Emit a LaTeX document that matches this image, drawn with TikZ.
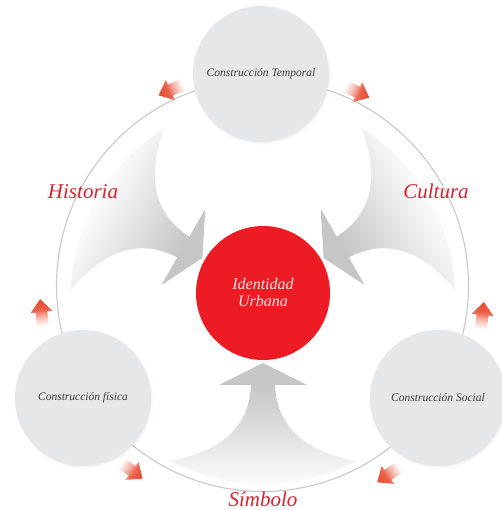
\documentclass[tikz,border=0pt]{standalone}
\usepackage{fontspec}
\setmainfont{Liberation Serif}
\usetikzlibrary{shadows}
\definecolor{corered}{HTML}{ED1C24}
\definecolor{labelred}{HTML}{D8232F}
\definecolor{satgray}{HTML}{E6E7E8}
\definecolor{ringgray}{HTML}{C9C9C9}
\definecolor{flowgray}{HTML}{C6C6C6}
\definecolor{tipred}{HTML}{E8472D}
\definecolor{textgray}{HTML}{3C3C3C}
\definecolor{coretext}{HTML}{FBE3E3}
\pgfdeclarehorizontalshading{redfade}{100bp}{color(0bp)=(white); color(25bp)=(white); color(38bp)=(white); color(52bp)=(tipred!45); color(60bp)=(tipred!85); color(75bp)=(tipred); color(100bp)=(tipred)}
\pgfdeclareverticalshading{grayfade}{100bp}{color(0bp)=(white); color(25bp)=(white); color(34bp)=(flowgray!20); color(46bp)=(flowgray!50); color(58bp)=(flowgray!80); color(66bp)=(flowgray); color(100bp)=(flowgray)}
\tikzset{
  sat/.style={circle, fill=satgray, minimum size=136pt, inner sep=0pt,
    font=\itshape\fontsize{11.5}{13}\selectfont, text=textgray,
    circular drop shadow={shadow scale=1.025, shadow xshift=0.5pt, shadow yshift=-1pt, opacity=0.3}},
  core/.style={circle, fill=corered, minimum size=134pt, inner sep=0pt, align=center,
    font=\itshape\fontsize{16}{17}\selectfont, text=coretext,
    circular drop shadow={shadow scale=1.02, shadow xshift=0pt, shadow yshift=-1pt, opacity=0.25}},
  theme/.style={font=\itshape\fontsize{21}{24}\selectfont, text=labelred},
  flowarrow/.style={shading=grayfade},
  outarrow/.style={shading=redfade},
  ringline/.style={draw=ringgray, line width=1.1pt},
}
\begin{document}
\begin{tikzpicture}[x=1pt, y=1pt]
  \useasboundingbox (0,0) rectangle (501,510);
  \fill[white] (0,0) rectangle (501,510);
  \coordinate (ringc) at (262.5,224.5);
  \coordinate (cc) at (263,217);
  % outer ring
  \draw[ringline] (ringc) circle[radius=206];
  % three broad gray arrows converging on the core
  \foreach \ang in {0,120,-120}{
    \begin{scope}[transform canvas={shift={(cc)}, rotate=\ang}]
      \shade[flowarrow] (0,-70) -- (44,-92) -- (12,-92)
        .. controls (14,-140) and (50,-160) .. (93,-168)
        arc[start angle=-62.1, end angle=-117.9, radius=198.6]
        .. controls (-50,-160) and (-14,-140) .. (-12,-92)
        -- (-44,-92) -- cycle;
    \end{scope}
  }
  % small red arrows along the ring
  \foreach \px/\py/\ang in {175/422/204, 353/420/-25, 42/193/96, 128/42/-36, 482/190/84, 392/38/-145}{
    \begin{scope}[transform canvas={shift={(\px,\py)}, rotate=\ang}]
      \shade[outarrow] (-18,-6) -- (5,-6) -- (5,-11) -- (18,0) -- (5,11) -- (5,6) -- (-18,6) -- cycle;
    \end{scope}
  }
  % satellites
  \node[sat] (temporal) at (261,436) {Construcción Temporal};
  \node[sat] (fisica) at (83,112) {Construcción física};
  \node[sat] (social) at (438,112) {Construcción Social};
  % core
  \node[core] (core) at (cc) {Identidad\\Urbana};
  % theme labels
  \node[theme] (historia) at (83,318) {Historia};
  \node[theme] (cultura) at (436,319) {Cultura};
  \node[theme] (simbolo) at (263,11) {Símbolo};
\end{tikzpicture}
\end{document}
